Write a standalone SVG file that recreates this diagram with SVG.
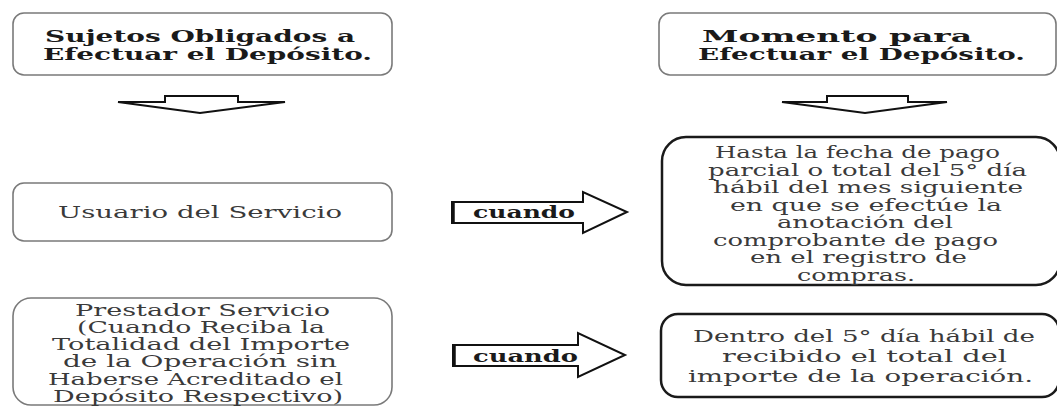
<svg xmlns="http://www.w3.org/2000/svg" width="1057" height="406" viewBox="0 0 1057 406">
<style>
.box{fill:#fff;stroke:#7a7a7a;stroke-width:1.6}
.box2{fill:#fff;stroke:#1a1a1a;stroke-width:2.5}
.t{font-family:"DejaVu Serif","Liberation Serif",serif;font-size:16px;fill:#3a3a3a}
.tb{font-family:"DejaVu Serif","Liberation Serif",serif;font-weight:bold;font-size:16.5px;fill:#1a1a1a}
.arr{fill:#fff;stroke:#111;stroke-width:2;stroke-linejoin:miter}
</style>
<rect width="1057" height="406" fill="#fff"/>
<g id="sujetos">
<rect class="box" x="13" y="13" width="379" height="62" rx="11"/>
<text class="tb" x="45" y="41.5" textLength="310" lengthAdjust="spacingAndGlyphs">Sujetos Obligados a</text>
<text class="tb" x="43" y="59.5" textLength="329" lengthAdjust="spacingAndGlyphs">Efectuar el Depósito.</text>
</g>
<g id="momento">
<rect class="box" x="659" y="13" width="397" height="62" rx="11"/>
<text class="tb" x="702" y="41.5" textLength="270" lengthAdjust="spacingAndGlyphs">Momento para</text>
<text class="tb" x="698" y="59.5" textLength="327" lengthAdjust="spacingAndGlyphs">Efectuar el Depósito.</text>
</g>
<g id="usuario">
<rect class="box" x="13" y="183" width="379" height="58" rx="11"/>
<text class="t" x="58" y="218" textLength="284" lengthAdjust="spacingAndGlyphs">Usuario del Servicio</text>
</g>
<g id="prestador">
<rect class="box" x="13" y="298" width="379" height="107" rx="18"/>
<text class="t" x="75" y="316" textLength="255" lengthAdjust="spacingAndGlyphs">Prestador Servicio</text>
<text class="t" x="77" y="333" textLength="248" lengthAdjust="spacingAndGlyphs">(Cuando Reciba la</text>
<text class="t" x="52" y="350.2" textLength="298" lengthAdjust="spacingAndGlyphs">Totalidad del Importe</text>
<text class="t" x="63" y="367.4" textLength="274" lengthAdjust="spacingAndGlyphs">de la Operación sin</text>
<text class="t" x="48" y="384.6" textLength="295" lengthAdjust="spacingAndGlyphs">Haberse Acreditado el</text>
<text class="t" x="53" y="402" textLength="290" lengthAdjust="spacingAndGlyphs">Depósito Respectivo)</text>
</g>
<g id="hasta">
<rect class="box2" x="662" y="137" width="398" height="148" rx="24"/>
<text class="t" x="715" y="158" textLength="285" lengthAdjust="spacingAndGlyphs">Hasta la fecha de pago</text>
<text class="t" x="708" y="175.5" textLength="319" lengthAdjust="spacingAndGlyphs">parcial o total del 5° día</text>
<text class="t" x="713" y="193" textLength="310" lengthAdjust="spacingAndGlyphs">hábil del mes siguiente</text>
<text class="t" x="730" y="210.5" textLength="272" lengthAdjust="spacingAndGlyphs">en que se efectúe la</text>
<text class="t" x="777" y="228" textLength="176" lengthAdjust="spacingAndGlyphs">anotación del</text>
<text class="t" x="713" y="245.5" textLength="285" lengthAdjust="spacingAndGlyphs">comprobante de pago</text>
<text class="t" x="750" y="263" textLength="217" lengthAdjust="spacingAndGlyphs">en el registro de</text>
<text class="t" x="797" y="280.5" textLength="118" lengthAdjust="spacingAndGlyphs">compras.</text>
</g>
<g id="dentro">
<rect class="box2" x="661" y="314" width="398" height="83" rx="17"/>
<text class="t" x="693" y="342" textLength="342" lengthAdjust="spacingAndGlyphs">Dentro del 5° día hábil de</text>
<text class="t" x="722" y="362" textLength="285" lengthAdjust="spacingAndGlyphs">recibido el total del</text>
<text class="t" x="688" y="382" textLength="345" lengthAdjust="spacingAndGlyphs">importe de la operación.</text>
</g>
<g id="connectors">
<path class="arr" d="M165,102 L165,96 L238,96 L238,102 L285,102 L200,113 L118,102 Z"/>
<path class="arr" d="M827,102 L827,96 L908,96 L908,102 L947,102 L865,113 L782,102 Z"/>
<g id="cuando1">
<path class="arr" d="M452,202 L583,202 L583,192 L627,212 L583,233 L583,223 L452,223 Z"/>
<line x1="453" y1="202" x2="453" y2="223" stroke="#111" stroke-width="3.5"/>
<text class="tb" x="473" y="218" textLength="102" lengthAdjust="spacingAndGlyphs">cuando</text>
</g>
<g id="cuando2">
<path class="arr" d="M453,345 L578,345 L578,333 L625,355 L578,377 L578,366 L453,366 Z"/>
<line x1="454" y1="345" x2="454" y2="366" stroke="#111" stroke-width="3.5"/>
<text class="tb" x="473" y="362" textLength="105" lengthAdjust="spacingAndGlyphs">cuando</text>
</g>
</g>
</svg>
